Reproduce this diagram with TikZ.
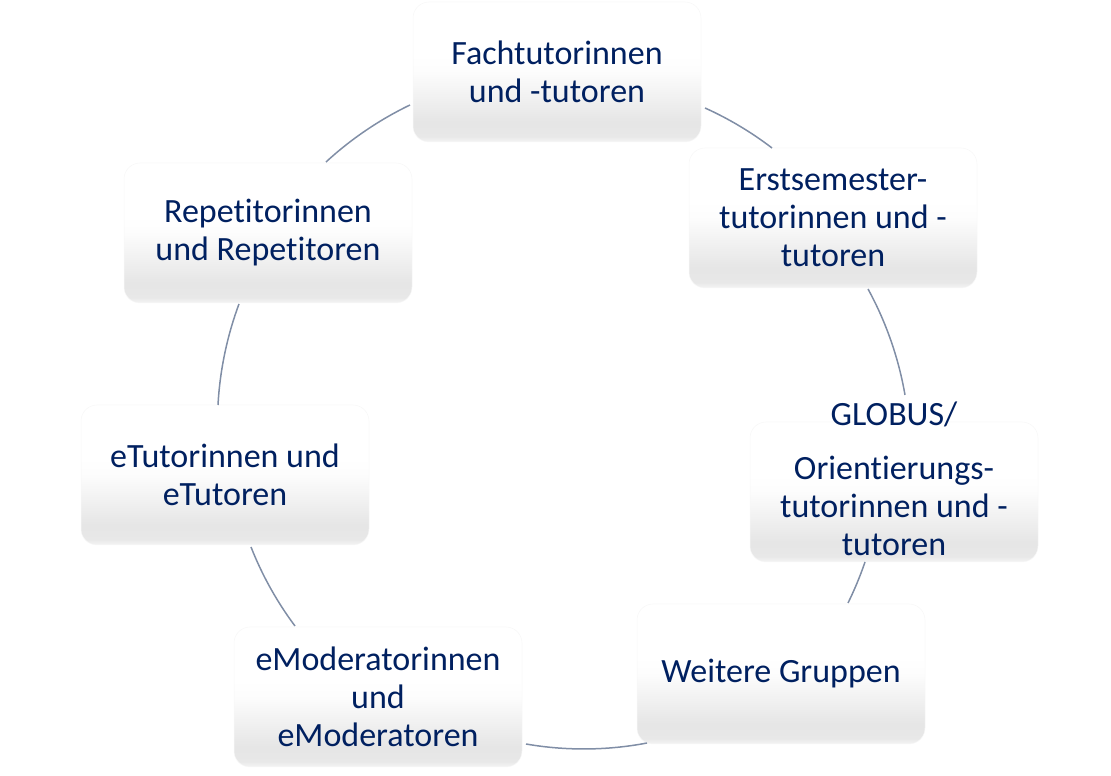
\documentclass[tikz,border=0pt]{standalone}
\usepackage{fontspec}
\setmainfont{Carlito}[Ligatures=NoCommon]
\usepackage{tikz}
\usetikzlibrary{positioning}
\definecolor{grptext}{RGB}{0,32,96}
\definecolor{grplink}{RGB}{128,142,166}
\pgfdeclareverticalshading{grpshade}{100bp}{color(0bp)=(black!4); color(25bp)=(black!4); color(27bp)=(black!9); color(32bp)=(black!10); color(50bp)=(black!1); color(56bp)=(white); color(100bp)=(white)}

\begin{document}
\begin{tikzpicture}[x=1pt,y=1pt]
\tikzstyle{every node}+=[inner sep=0pt]
\tikzstyle{grp}=[rectangle, rounded corners=16pt, minimum width=288pt, minimum height=140pt, shading=grpshade, draw=black!3, line width=0.5pt]
\tikzstyle{lbl}=[align=center, text=grptext, font=\fontsize{34}{38}\selectfont]
\tikzstyle{link}=[draw=grplink, line width=1.5pt, bend left, looseness=0.85]
\useasboundingbox (0,0) rectangle (1111,776);
% boxes
\node [grp] (b1) at (557,704) {};
\node [grp] (b2) at (833,558) {};
\node [grp] (b3) at (894,284) {};
\node [grp] (b4) at (781,102) {};
\node [grp] (b5) at (378,79) {};
\node [grp] (b6) at (225,301) {};
\node [grp] (b7) at (268,543) {};
% texts
\node [lbl] (t1) at (b1) {Fachtutorinnen\\und -tutoren};
\node [lbl] (t2) at (b2) {Erstsemester-\\tutorinnen und -\\tutoren};
\node [lbl] (t3) at (894,297) {GLOBUS/\\[16pt]Orientierungs-\\tutorinnen und -\\tutoren};
\node [lbl] (t4) at (b4) {Weitere Gruppen};
\node [lbl] (t5) at (b5) {eModeratorinnen\\und\\eModeratoren};
\node [lbl] (t6) at (b6) {eTutorinnen und\\eTutoren};
\node [lbl] (t7) at (b7) {Repetitorinnen\\und Repetitoren};
% arc ends
\coordinate (c7a) at (326,614);
\coordinate (c1a) at (410,671);
\coordinate (c1b) at (705,668);
\coordinate (c2a) at (772,628);
\coordinate (c2b) at (868,487);
\coordinate (c3a) at (905,381);
\coordinate (c3b) at (865,214);
\coordinate (c4a) at (848,173);
\coordinate (c4b) at (647,33);
\coordinate (c5a) at (526,32);
\coordinate (c5b) at (295,150);
\coordinate (c6a) at (251,229);
\coordinate (c6b) at (218,371);
\coordinate (c7b) at (239,472);
% arcs
\draw [link, bend left=8.5] (c7a) to (c1a);
\draw [link, bend left=6.6] (c1b) to (c2a);
\draw [link, bend left=9.5] (c2b) to (c3a);
\draw [link, bend left=3.7] (c3b) to (c4a);
\draw [link, bend left=10.4] (c4b) to (c5a);
\draw [link, bend left=7.7] (c5b) to (c6a);
\draw [link, bend left=8.7] (c6b) to (c7b);
\end{tikzpicture}
\end{document}
